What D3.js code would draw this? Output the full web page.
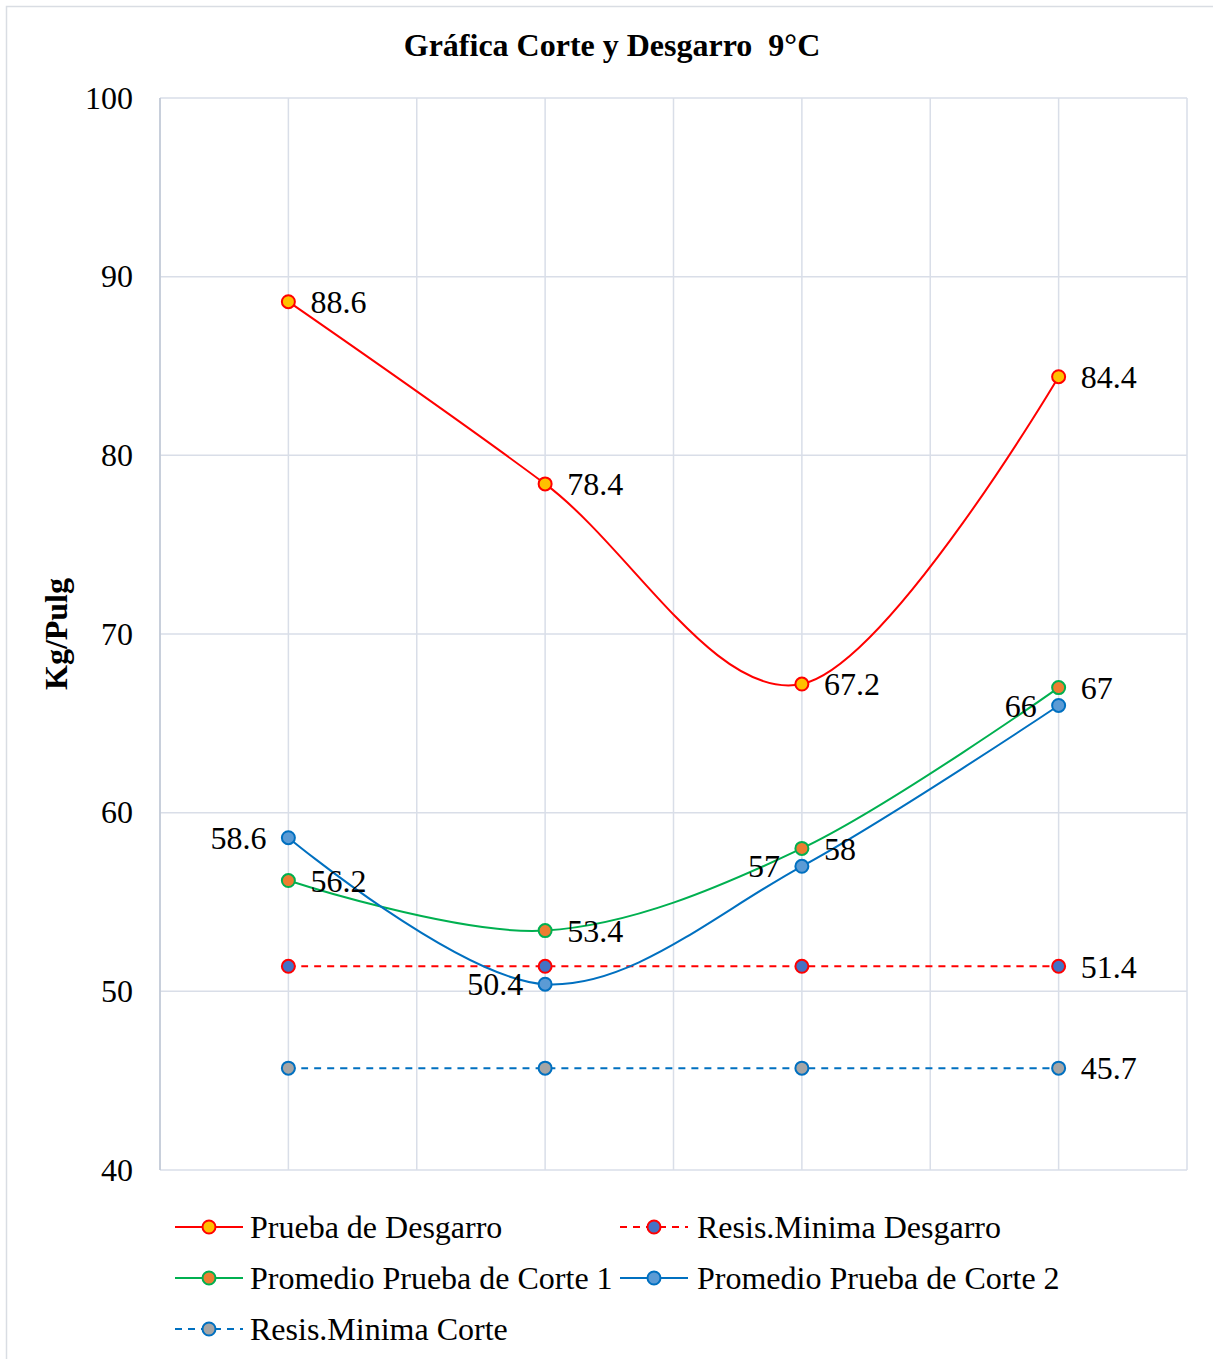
<!DOCTYPE html>
<html>
<head>
<meta charset="utf-8">
<script src="https://cdn.jsdelivr.net/npm/d3@7/dist/d3.min.js"></script>
<style>
  html, body { margin: 0; padding: 0; background: #fff; }
  svg { display: block; }
  text { font-family: "Liberation Serif", "Times New Roman", serif; fill: #000; }
</style>
</head>
<body>
<svg id="chart" width="1213" height="1359"></svg>
<script>
// Test points (four samples per series)
const categories = ["1", "2", "3", "4"];

const pruebaDesgarro = [88.6, 78.4, 67.2, 84.4];
const promedioCorte1 = [56.2, 53.4, 58, 67];
const promedioCorte2 = [58.6, 50.4, 57, 66];
const resisMinDesgarro = [51.4, 51.4, 51.4, 51.4];
const resisMinCorte = [45.7, 45.7, 45.7, 45.7];

const seriesNames = [
  "Prueba de Desgarro",
  "Resis.Minima Desgarro",
  "Promedio Prueba de Corte 1",
  "Promedio Prueba de Corte 2",
  "Resis.Minima Corte"
];

const yTicks = [40, 50, 60, 70, 80, 90, 100];

const titleText = "Gráfica Corte y Desgarro  9°C";
const yAxisTitle = "Kg/Pulg";

// Series drawing setup
const series = [
  { name: seriesNames[0], values: pruebaDesgarro, stroke: "#FF0000", fill: "#FFC000", mstroke: "#FF0000", dash: null, labels: "all", side: ["r", "r", "r", "r"] },
  { name: seriesNames[2], values: promedioCorte1, stroke: "#00B050", fill: "#ED7D31", mstroke: "#00B050", dash: null, labels: "all", side: ["r", "r", "r", "r"] },
  { name: seriesNames[3], values: promedioCorte2, stroke: "#0070C0", fill: "#5B9BD5", mstroke: "#0070C0", dash: null, labels: "all", side: ["l", "l", "l", "l"] },
  { name: seriesNames[1], values: resisMinDesgarro, stroke: "#FF0000", fill: "#4472C4", mstroke: "#FF0000", dash: "7,6", labels: "last", side: ["r", "r", "r", "r"] },
  { name: seriesNames[4], values: resisMinCorte, stroke: "#0070C0", fill: "#A5A5A5", mstroke: "#0070C0", dash: "7,6", labels: "last", side: ["r", "r", "r", "r"] }
];

const FS = 32;
const svg = d3.select("#chart");

// Outer chart frame
svg.append("rect")
  .attr("x", 6.5).attr("y", 6.5)
  .attr("width", 1240).attr("height", 1400)
  .attr("fill", "none").attr("stroke", "#D9DDE3").attr("stroke-width", 1.5);

const plot = { left: 160, right: 1187, top: 98, bottom: 1170 };

const x = d3.scalePoint().domain(categories).range([plot.left, plot.right]).padding(0.5);
const y = d3.scaleLinear().domain([40, 100]).range([plot.bottom, plot.top]);
const step = x.step();

const grid = svg.append("g");
// Horizontal gridlines
grid.selectAll("line.h").data(yTicks).join("line")
  .attr("x1", plot.left).attr("x2", plot.right)
  .attr("y1", d => y(d)).attr("y2", d => y(d))
  .attr("stroke", "#D9DEE8").attr("stroke-width", 1.5);

// Vertical gridlines: category boundaries and category centres
const vLines = [];
categories.forEach(c => { vLines.push(x(c) - step / 2); vLines.push(x(c)); });
vLines.push(x(categories[categories.length - 1]) + step / 2);
grid.selectAll("line.v").data(vLines).join("line")
  .attr("x1", d => d).attr("x2", d => d)
  .attr("y1", plot.top).attr("y2", plot.bottom)
  .attr("stroke", "#D9DEE8").attr("stroke-width", 1.5);

// Value axis line
svg.append("line")
  .attr("x1", plot.left).attr("x2", plot.left)
  .attr("y1", plot.top).attr("y2", plot.bottom)
  .attr("stroke", "#BFC7D5").attr("stroke-width", 1.5);

// Y axis tick labels
const yAxis = d3.axisLeft(y).tickValues(yTicks).tickSize(0).tickPadding(27);
const yg = svg.append("g").attr("transform", `translate(${plot.left},0)`).call(yAxis);
yg.select(".domain").remove();
yg.selectAll("text")
  .attr("font-family", "Liberation Serif, Times New Roman, serif")
  .attr("font-size", FS).attr("fill", "#000");

// Title
svg.append("text")
  .attr("x", 612).attr("y", 56)
  .attr("text-anchor", "middle")
  .attr("font-size", FS).attr("font-weight", "bold")
  .style("white-space", "pre")
  .text(titleText);

// Y axis title
svg.append("text")
  .attr("transform", "translate(67,634) rotate(-90)")
  .attr("text-anchor", "middle")
  .attr("font-size", FS).attr("font-weight", "bold")
  .text(yAxisTitle);

const line = d3.line()
  .x((d, i) => x(categories[i]))
  .y(d => y(d))
  .curve(d3.curveCardinal.tension(0));

const lines = svg.append("g");
// Dashed minimum lines first, then measured series on top
const order = [3, 4, 0, 1, 2];
order.forEach(k => {
  const s = series[k];
  lines.append("path")
    .datum(s.values)
    .attr("d", line)
    .attr("fill", "none")
    .attr("stroke", s.stroke)
    .attr("stroke-width", 2)
    .attr("stroke-dasharray", s.dash);
});
order.forEach(k => {
  const s = series[k];
  lines.append("g").selectAll("circle").data(s.values).join("circle")
    .attr("cx", (d, i) => x(categories[i]))
    .attr("cy", d => y(d))
    .attr("r", 6.5)
    .attr("fill", s.fill)
    .attr("stroke", s.mstroke)
    .attr("stroke-width", 2);
});

// Data labels
const fmt = d => String(d);
series.forEach(s => {
  const idx = s.labels === "all" ? s.values.map((_, i) => i) : [s.values.length - 1];
  svg.append("g").selectAll("text").data(idx).join("text")
    .attr("x", i => x(categories[i]) + (s.side[i] === "r" ? 22 : -22))
    .attr("y", i => y(s.values[i]))
    .attr("dy", "0.35em")
    .attr("text-anchor", i => s.side[i] === "r" ? "start" : "end")
    .attr("font-size", FS)
    .text(i => fmt(s.values[i]));
});

// Legend
const legendItems = [
  { s: series[0], lx: 175, ly: 1227, tx: 75 },
  { s: series[3], lx: 620, ly: 1227, tx: 77 },
  { s: series[1], lx: 175, ly: 1278, tx: 75 },
  { s: series[2], lx: 620, ly: 1278, tx: 77 },
  { s: series[4], lx: 175, ly: 1329, tx: 75 }
];
const lg = svg.append("g");
legendItems.forEach(it => {
  const g = lg.append("g").attr("transform", `translate(${it.lx},${it.ly})`);
  g.append("line")
    .attr("x1", 0).attr("x2", 68).attr("y1", 0).attr("y2", 0)
    .attr("stroke", it.s.stroke).attr("stroke-width", 2)
    .attr("stroke-dasharray", it.s.dash);
  g.append("circle")
    .attr("cx", 34).attr("cy", 0).attr("r", 6.5)
    .attr("fill", it.s.fill).attr("stroke", it.s.mstroke).attr("stroke-width", 2);
  g.append("text")
    .attr("x", it.tx).attr("y", 0).attr("dy", "0.35em")
    .attr("font-size", FS)
    .text(it.s.name);
});
</script>
</body>
</html>
